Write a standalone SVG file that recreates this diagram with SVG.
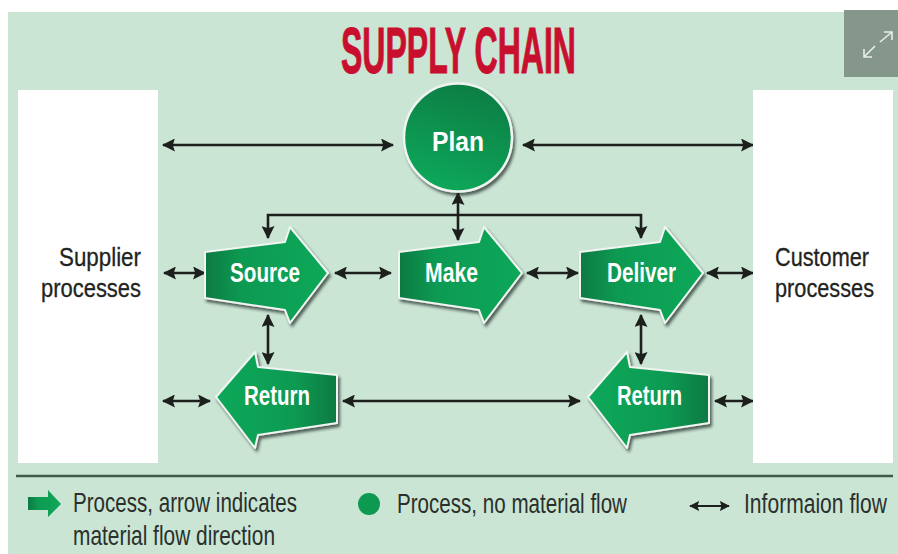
<svg xmlns="http://www.w3.org/2000/svg" width="898" height="554" viewBox="0 0 898 554">
<defs>
<linearGradient id="fwd" x1="0" y1="0" x2="1" y2="0"><stop offset="0" stop-color="#0a7a42"/><stop offset="0.3" stop-color="#0e9a52"/><stop offset="1" stop-color="#0fa85a"/></linearGradient>
<linearGradient id="back" x1="0" y1="0" x2="1" y2="0"><stop offset="0" stop-color="#0fa85a"/><stop offset="0.65" stop-color="#0e9a52"/><stop offset="1" stop-color="#0a7a42"/></linearGradient>
<linearGradient id="disc" x1="0.7" y1="0" x2="0.4" y2="1"><stop offset="0" stop-color="#0a7c43"/><stop offset="1" stop-color="#0fa85a"/></linearGradient>
<filter id="sh" x="-15%" y="-15%" width="135%" height="135%"><feDropShadow dx="2" dy="3" stdDeviation="1.8" flood-color="#1c2a22" flood-opacity="0.7"/></filter>
<marker id="ah" viewBox="0 0 12 12" refX="11" refY="6" markerWidth="13" markerHeight="13" markerUnits="userSpaceOnUse" orient="auto-start-reverse"><path d="M0 0L12 6L0 12L2 6Z" fill="#1d1f1d"/></marker>
<marker id="ahs" viewBox="0 0 12 12" refX="11" refY="6" markerWidth="10" markerHeight="10" markerUnits="userSpaceOnUse" orient="auto-start-reverse"><path d="M0 0L12 6L0 12L2 6Z" fill="#1d1f1d"/></marker>
</defs>
<style>
text{font-family:"Liberation Sans",Arial,sans-serif}
.box{fill:#fff}
.arrow{stroke:#f1f5f1;stroke-width:2;stroke-linejoin:round;filter:url(#sh)}
.nl{fill:#fff;font-weight:700;font-size:27px}
.pl{fill:#1f2421;font-size:26px;stroke:#1f2421;stroke-width:0.3}
.lg{fill:#2a302c;font-size:28px}
.c{fill:none;stroke:#1d1f1d;stroke-width:2.6}
.both{marker-start:url(#ah);marker-end:url(#ah)}
</style>
<rect width="898" height="554" fill="#fff"/>
<rect x="8" y="12" width="890" height="542" fill="#cbe5d5"/>
<text x="341" y="73" fill="#c8102e" stroke="#c8102e" stroke-width="1" font-size="64" font-weight="700" textLength="235" lengthAdjust="spacingAndGlyphs">SUPPLY CHAIN</text>
<g id="expand"><rect x="844" y="10" width="54" height="67" fill="#84978a"/><path d="M864 57L875 46M864 49V57H872M880 42L892 32M884 32H892V40" fill="none" stroke="#e8eee9" stroke-width="1.6"/></g>
<g id="connectors">
<path class="c both" d="M163 145H393"/>
<path class="c both" d="M523 145H753"/>
<path class="c" marker-end="url(#ah)" d="M458 215H268V238"/>
<path class="c" marker-end="url(#ah)" d="M458 215H641V238"/>
<path class="c both" d="M458 193V240"/>
<path class="c both" d="M164 273H205"/>
<path class="c both" d="M335 273H391"/>
<path class="c both" d="M527 273H578"/>
<path class="c both" d="M707 273H753"/>
<path class="c both" d="M268 315V364"/>
<path class="c both" d="M641 315V364"/>
<path class="c both" d="M163 401H210"/>
<path class="c both" d="M343 401H580"/>
<path class="c both" d="M715 401H753"/>
</g>
<g id="supplier"><rect class="box" x="18" y="90" width="140" height="373"/><text class="pl" x="59" y="266" textLength="82" lengthAdjust="spacingAndGlyphs">Supplier</text><text class="pl" x="41" y="297" textLength="100" lengthAdjust="spacingAndGlyphs">processes</text></g>
<g id="customer"><rect class="box" x="753" y="90" width="140" height="373"/><text class="pl" x="775" y="266" textLength="94" lengthAdjust="spacingAndGlyphs">Customer</text><text class="pl" x="775" y="297" textLength="99" lengthAdjust="spacingAndGlyphs">processes</text></g>
<g id="plan"><circle cx="458" cy="137.500" r="54" fill="url(#disc)" stroke="#eef4ef" stroke-width="2.500" filter="url(#sh)"/><text class="nl" x="432" y="151" textLength="52" lengthAdjust="spacingAndGlyphs">Plan</text></g>
<g id="source"><path class="arrow" fill="url(#fwd)" d="M205 252L285 242L290 227L328 273L290 323L285 310L205 298Z"/><text class="nl" x="230" y="282" textLength="70" lengthAdjust="spacingAndGlyphs">Source</text></g>
<g id="make"><path class="arrow" fill="url(#fwd)" d="M399 252L479 242L484 227L522 273L484 323L479 310L399 298Z"/><text class="nl" x="425" y="282" textLength="53" lengthAdjust="spacingAndGlyphs">Make</text></g>
<g id="deliver"><path class="arrow" fill="url(#fwd)" d="M580 252L660 242L665 227L703 273L665 323L660 310L580 298Z"/><text class="nl" x="607" y="282" textLength="69" lengthAdjust="spacingAndGlyphs">Deliver</text></g>
<g id="return-left"><path class="arrow" fill="url(#back)" d="M216 397L255 352L258 367L337 375V423L258 435L255 448Z"/><text class="nl" x="244" y="405" textLength="66" lengthAdjust="spacingAndGlyphs">Return</text></g>
<g id="return-right"><path class="arrow" fill="url(#back)" d="M588 397L627 352L630 367L709 375V423L630 435L627 448Z"/><text class="nl" x="617" y="405" textLength="65" lengthAdjust="spacingAndGlyphs">Return</text></g>
<path d="M16 476H893" stroke="#3c5a4c" stroke-width="2.500"/>
<g id="legend-process-arrow"><path fill="url(#fwd)" d="M28 497H48V490L61 504L48 517V510H28Z"/><text class="lg" x="73" y="512" textLength="224" lengthAdjust="spacingAndGlyphs">Process, arrow indicates</text><text class="lg" x="73" y="545" textLength="202" lengthAdjust="spacingAndGlyphs">material flow direction</text></g>
<g id="legend-process-circle"><circle cx="369" cy="504" r="11" fill="#0d9a50"/><text class="lg" x="397" y="513" textLength="230" lengthAdjust="spacingAndGlyphs">Process, no material flow</text></g>
<g id="legend-info"><path stroke="#1d1f1d" stroke-width="1.800" marker-start="url(#ahs)" marker-end="url(#ahs)" d="M690 506H729"/><text class="lg" transform="translate(744 513) scale(0.753 1)">Informaion flow</text></g>
</svg>
